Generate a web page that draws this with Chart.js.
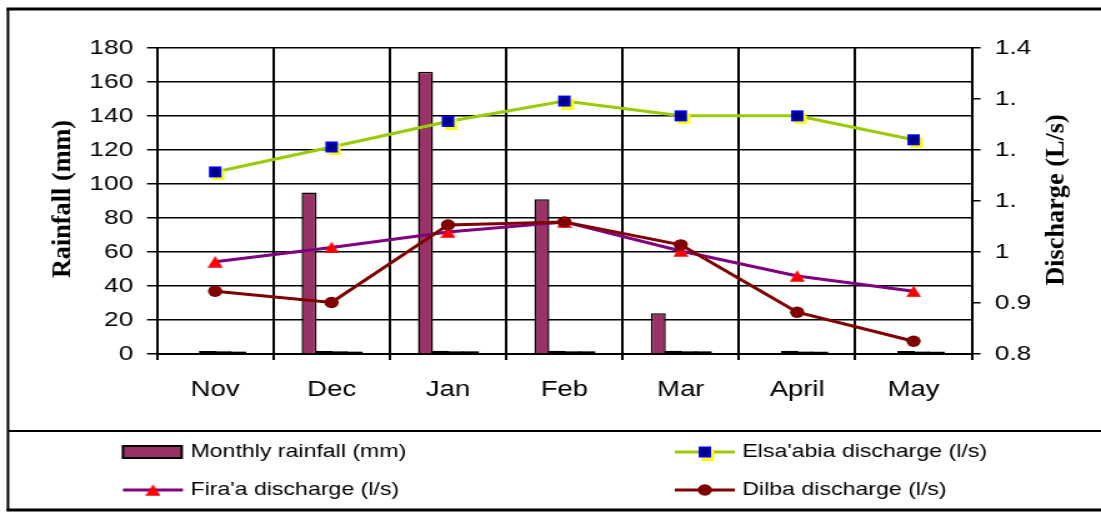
<!DOCTYPE html>
<html>
<head>
<meta charset="utf-8">
<script src="https://cdn.jsdelivr.net/npm/chart.js@4/dist/chart.umd.min.js"></script>
<style>
  html, body { margin: 0; padding: 0; background: #fff; overflow: hidden; }
  /* the chart is laid out on a narrower canvas and widened to the page */
  #wrap { width: 881px; height: 513px; transform: scaleX(1.2497); transform-origin: 0 0; }
  canvas { display: block; }
</style>
</head>
<body>
<div id="wrap"><canvas id="c" width="881" height="513"></canvas></div>
<script>
// ---- data ----
const months = ['Nov', 'Dec', 'Jan', 'Feb', 'Mar', 'April', 'May'];
const rainfall = [0, 95, 166, 91, 24, 0, 0];                       // mm
const elsaabia = [1.157, 1.206, 1.256, 1.296, 1.267, 1.267, 1.220]; // l/s
const firaa    = [0.981, 1.009, 1.039, 1.059, 1.002, 0.953, 0.923]; // l/s
const dilba    = [0.923, 0.901, 1.053, 1.059, 1.014, 0.882, 0.825]; // l/s
const dischargeTicks = ['0.8', '0.9', '1', '1.', '1.', '1.', '1.4'];

const SANS = '"Liberation Sans", Arial, sans-serif';
const SERIF = '"Liberation Serif", "Times New Roman", serif';

// ---- marker images ----
function squareMarker() {
  const c = document.createElement('canvas');
  c.width = 16; c.height = 17;
  const g = c.getContext('2d');
  g.fillStyle = '#FFFF00';
  g.fillRect(5.4, 6, 10, 11);
  g.fillStyle = '#0000FF';
  g.fillRect(3, 3, 10, 11);
  g.fillStyle = '#000080';
  g.fillRect(4.6, 4.6, 6.8, 7.8);
  return c;
}
function triangleMarker() {
  const c = document.createElement('canvas');
  c.width = 12; c.height = 12;
  const g = c.getContext('2d');
  g.fillStyle = '#FF0000';
  g.beginPath();
  g.moveTo(6, 0.2); g.lineTo(12, 11.8); g.lineTo(0, 11.8); g.closePath();
  g.fill();
  return c;
}
const sqImg = squareMarker();
const triImg = triangleMarker();

// ---- frame, axis titles, legend ----
const legendSlots = [
  { ds: 0, x: 98.4, y: 452 },
  { ds: 4, x: 540, y: 452 },
  { ds: 5, x: 98.4, y: 490 },
  { ds: 6, x: 540, y: 490 }
];

const decor = {
  id: 'decor',
  beforeDraw(chart) {
    const ctx = chart.ctx;
    ctx.save();
    ctx.fillStyle = '#fff';
    ctx.fillRect(0, 0, chart.width, chart.height);
    ctx.restore();
  },
  afterDraw(chart) {
    const ctx = chart.ctx;
    ctx.save();
    // outer frame and legend divider
    ctx.strokeStyle = '#000';
    ctx.lineWidth = 3;
    ctx.beginPath(); ctx.moveTo(5.2, 9); ctx.lineTo(881, 9); ctx.stroke();
    ctx.beginPath(); ctx.moveTo(5.2, 510); ctx.lineTo(881, 510); ctx.stroke();
    ctx.lineWidth = 2;
    ctx.beginPath(); ctx.moveTo(6.4, 9); ctx.lineTo(6.4, 510); ctx.stroke();
    ctx.beginPath(); ctx.moveTo(6.4, 431); ctx.lineTo(881, 431); ctx.stroke();

    // axis titles
    ctx.fillStyle = '#000';
    ctx.font = 'bold 21px ' + SERIF;
    ctx.textAlign = 'center';
    ctx.textBaseline = 'middle';
    ctx.save();
    ctx.translate(50.4, 199); ctx.rotate(-Math.PI / 2); ctx.scale(1.25, 1);
    ctx.fillText('Rainfall (mm)', 0, 0);
    ctx.restore();
    ctx.save();
    ctx.translate(845.6, 200); ctx.rotate(-Math.PI / 2); ctx.scale(1.25, 1);
    ctx.fillText('Discharge (L/s)', 0, 0);
    ctx.restore();

    // legend
    ctx.font = '18.5px ' + SANS;
    ctx.textAlign = 'left';
    ctx.textBaseline = 'middle';
    legendSlots.forEach(s => {
      const d = chart.data.datasets[s.ds];
      if (d.type === 'bar') {
        ctx.fillStyle = d.backgroundColor;
        ctx.fillRect(s.x, s.y - 6, 47, 12);
        ctx.strokeStyle = '#000';
        ctx.lineWidth = 2;
        ctx.strokeRect(s.x, s.y - 6, 47, 12);
      } else {
        ctx.strokeStyle = d.borderColor;
        ctx.lineWidth = 3;
        ctx.beginPath(); ctx.moveTo(s.x, s.y); ctx.lineTo(s.x + 48, s.y); ctx.stroke();
        const cx = s.x + 24;
        if (typeof d.pointStyle === 'object') {
          ctx.drawImage(d.pointStyle, cx - d.pointStyle.width / 2, s.y - d.pointStyle.height / 2);
        } else {
          ctx.fillStyle = d.pointBackgroundColor;
          ctx.beginPath(); ctx.arc(cx, s.y, d.pointRadius, 0, Math.PI * 2); ctx.fill();
        }
      }
      ctx.fillStyle = '#000';
      ctx.fillText(d.label, s.x + 54, s.y);
    });
    ctx.restore();
  }
};

const barCommon = { categoryPercentage: 0.515, barPercentage: 1, yAxisID: 'y' };
const smallBar = { backgroundColor: '#000', borderColor: '#000', borderWidth: 1, inflateAmount: 1 };

new Chart(document.getElementById('c'), {
  data: {
    labels: months,
    datasets: [
      Object.assign({ type: 'bar', label: 'Monthly rainfall (mm)', data: rainfall,
        backgroundColor: '#993366', borderColor: '#000', borderWidth: 1.5, order: 10 }, barCommon),
      Object.assign({ type: 'bar', label: "Elsa'abia (bar)", data: elsaabia, order: 11 }, smallBar, barCommon),
      Object.assign({ type: 'bar', label: "Fira'a (bar)", data: firaa, order: 12 }, smallBar, barCommon),
      Object.assign({ type: 'bar', label: 'Dilba (bar)', data: dilba, order: 13 }, smallBar, barCommon),
      { type: 'line', label: "Elsa'abia discharge (l/s)", data: elsaabia, yAxisID: 'y1',
        borderColor: '#99CC00', borderWidth: 3, pointStyle: sqImg, pointRadius: 6,
        tension: 0, order: 2 },
      { type: 'line', label: "Fira'a discharge (l/s)", data: firaa, yAxisID: 'y1',
        borderColor: '#800080', borderWidth: 3, pointStyle: triImg, pointRadius: 6,
        tension: 0, order: 1 },
      { type: 'line', label: 'Dilba discharge (l/s)', data: dilba, yAxisID: 'y1',
        borderColor: '#800000', borderWidth: 3, pointStyle: 'circle', pointRadius: 5.7,
        pointBackgroundColor: '#800000', pointBorderColor: '#800000', pointBorderWidth: 0,
        tension: 0, order: 0 }
    ]
  },
  options: {
    responsive: false,
    devicePixelRatio: 1,
    animation: false,
    events: [],
    layout: { padding: { left: 0, right: 0, top: 48, bottom: 109 } },
    plugins: { legend: { display: false }, tooltip: { enabled: false } },
    scales: {
      x: {
        offset: true,
        grid: { offset: true, color: '#000', lineWidth: 2, tickLength: 6 },
        border: { color: '#000', width: 2 },
        ticks: { color: '#000', font: { family: SANS, size: 22 }, padding: 17, maxRotation: 0 },
        afterFit(s) { s.height = 50; }
      },
      y: {
        position: 'left', min: 0, max: 180,
        ticks: { stepSize: 20, color: '#000', font: { family: SANS, size: 21 }, padding: 11 },
        grid: { color: '#000', lineWidth: 1.5, tickLength: 8 },
        border: { color: '#000', width: 2 },
        afterFit(s) { s.width = 125.6; }
      },
      y1: {
        position: 'right', min: 0.8, max: 1.4,
        ticks: { stepSize: 0.1, color: '#000', font: { family: SANS, size: 21 }, padding: 11.4,
          callback: (v, i) => dischargeTicks[i] },
        grid: { drawOnChartArea: false, color: '#000', lineWidth: 1.5, tickLength: 7 },
        border: { color: '#000', width: 2 },
        afterFit(s) { s.width = 881 - 777.6; }
      }
    }
  },
  plugins: [decor]
});
</script>
</body>
</html>
